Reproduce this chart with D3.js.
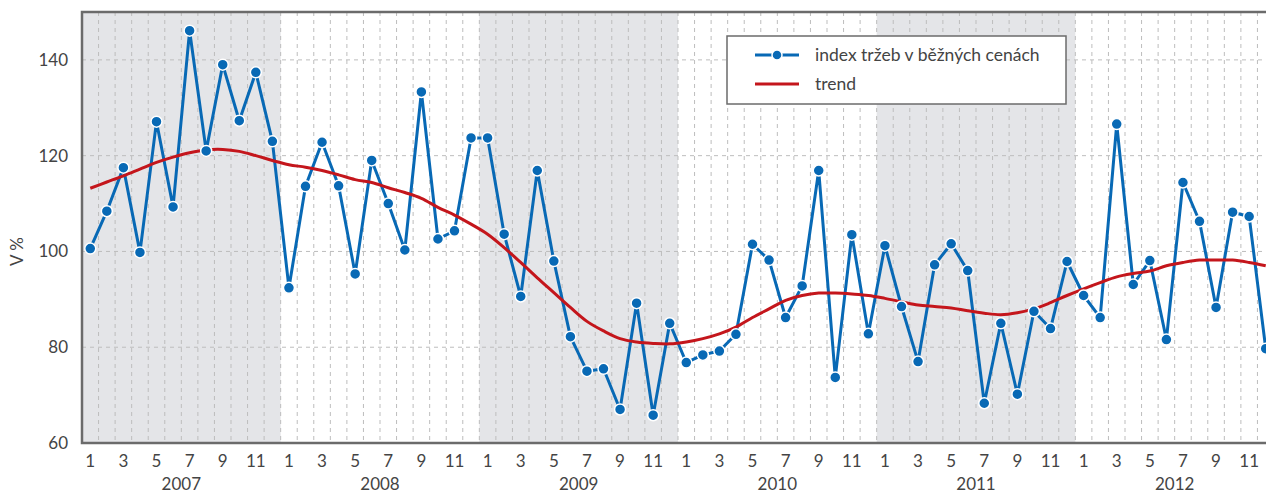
<!DOCTYPE html>
<meta charset="utf-8">
<head>
  <title>Index tržeb</title>
  <script src="https://d3js.org/d3.v7.min.js"></script>
</head>
<style>
body { margin: 0; background: #fff; }
text { font-family: Lato, "Open Sans", sans-serif; fill: #444; }
.grid line { stroke: #bdbdbd; stroke-dasharray: 4,4; stroke-width: 1; }
.frame { stroke: #6b6b6b; stroke-width: 2.5; fill: none; }
.series { fill: none; stroke: #0869b5; stroke-width: 3; stroke-linejoin: round; }
.trend { fill: none; stroke: #c4161c; stroke-width: 3; }
.dot { fill: #0869b5; stroke: #fff; stroke-width: 1.5; }
</style>
<body>
<script>
var years = ["2007", "2008", "2009", "2010", "2011", "2012"]
var monthTicks = [1, 3, 5, 7, 9, 11]
var yTicks = [60, 80, 100, 120, 140]

// index tržeb v běžných cenách, month by month 2007-2012
var index = [
  100.6, 108.4, 117.5, 99.8, 127.1, 109.3, 146.1, 121.0, 139.0, 127.3, 137.4, 123.0,
  92.4, 113.6, 122.8, 113.7, 95.3, 119.0, 110.0, 100.3, 133.3, 102.6, 104.3, 123.7,
  123.7, 103.6, 90.6, 116.9, 98.0, 82.2, 75.0, 75.5, 67.0, 89.2, 65.8, 85.0,
  76.8, 78.4, 79.2, 82.7, 101.5, 98.2, 86.2, 92.8, 116.9, 73.7, 103.5, 82.8,
  101.2, 88.5, 77.0, 97.2, 101.6, 96.0, 68.3, 85.0, 70.2, 87.5, 83.9, 97.9,
  90.8, 86.2, 126.6, 93.1, 98.1, 81.6, 114.4, 106.3, 88.3, 108.2, 107.3, 79.7
]
var trend = [
  113.2, 114.5, 115.8, 117.2, 118.6, 119.7, 120.6, 121.2, 121.3, 120.9, 120.0, 119.0,
  118.1, 117.6, 116.9, 116.0, 115.0, 114.4, 113.3, 112.3, 111.1, 109.2, 107.6, 105.7,
  103.6, 100.8, 97.7, 94.5, 91.4, 88.3, 85.4, 83.4, 81.8, 81.1, 80.8, 80.7,
  81.1, 81.8, 82.8, 84.2, 86.2, 88.0, 89.8, 90.8, 91.3, 91.3, 91.1, 90.8,
  90.2, 89.5, 88.8, 88.5, 88.2, 87.6, 87.1, 86.8, 87.2, 88.0, 89.3, 90.8,
  92.2, 93.5, 94.7, 95.4, 95.9, 97.0, 97.7, 98.2, 98.2, 98.2, 97.7, 97.0
]

var width = 1266, height = 495
var plotL = 82, plotT = 12, plotB = 443, plotR = 1274

var svg = d3.select("body").append("svg")
    .attr("width", width)
    .attr("height", height)

var months = d3.range(index.length)

var x = d3.scaleBand()
    .domain(months)
    .range([plotL, plotR])
    .paddingInner(0).paddingOuter(0)

var y = d3.scaleLinear()
    .domain([60, 150])
    .range([plotB, plotT])

var step = x.step()
function cx(i) { return x(i) + step / 2 }

// shaded years
svg.selectAll(".band")
    .data(years.filter(function(d, i) { return i % 2 == 0 }))
  .enter().append("rect")
    .attr("class", "band")
    .attr("x", function(d) { return x(years.indexOf(d) * 12) })
    .attr("y", plotT)
    .attr("width", step * 12)
    .attr("height", plotB - plotT)
    .attr("fill", "#e4e5e8")

// grid
var grid = svg.append("g").attr("class", "grid")
grid.selectAll(".vg")
    .data(months.slice(1))
  .enter().append("line")
    .attr("x1", function(d) { return x(d) })
    .attr("x2", function(d) { return x(d) })
    .attr("y1", plotT)
    .attr("y2", plotB)
grid.selectAll(".hg")
    .data(yTicks.slice(1))
  .enter().append("line")
    .attr("x1", plotL)
    .attr("x2", plotR)
    .attr("y1", function(d) { return y(d) })
    .attr("y2", function(d) { return y(d) })

// frame
svg.append("path")
    .attr("class", "frame")
    .attr("d", "M" + plotR + "," + plotT + "H" + plotL + "V" + plotB + "H" + plotR)

// y labels
svg.selectAll(".ylab")
    .data(yTicks)
  .enter().append("text")
    .attr("x", 68)
    .attr("y", function(d) { return y(d) })
    .attr("dy", "0.35em")
    .attr("text-anchor", "end")
    .style("font-size", "17px")
    .text(function(d) { return d })

svg.append("text")
    .attr("transform", "translate(23," + y(100) + ") rotate(-90)")
    .attr("text-anchor", "middle")
    .style("font-size", "17px")
    .text("V %")

// month labels
var monthLabels = []
years.forEach(function(yr, yi) {
  monthTicks.forEach(function(m) { monthLabels.push({ i: yi * 12 + m - 1, m: m }) })
})
svg.selectAll(".mlab")
    .data(monthLabels)
  .enter().append("text")
    .attr("x", function(d) { return cx(d.i) })
    .attr("y", 467)
    .attr("text-anchor", "middle")
    .style("font-size", "17px")
    .text(function(d) { return d.m })

svg.selectAll(".yrlab")
    .data(years)
  .enter().append("text")
    .attr("x", function(d, i) { return x(i * 12) + step * 6 })
    .attr("y", 490)
    .attr("text-anchor", "middle")
    .style("font-size", "17px")
    .text(function(d) { return d })

// lines
var line = d3.line()
    .x(function(d, i) { return cx(i) })
    .y(function(d) { return y(d) })

svg.append("path")
    .datum(index)
    .attr("class", "series")
    .attr("d", line)

svg.append("path")
    .datum(trend)
    .attr("class", "trend")
    .attr("d", line.curve(d3.curveCatmullRom))

svg.selectAll(".dot")
    .data(index)
  .enter().append("circle")
    .attr("class", "dot")
    .attr("cx", function(d, i) { return cx(i) })
    .attr("cy", function(d) { return y(d) })
    .attr("r", 5.5)

// legend
var legend = svg.append("g").attr("transform", "translate(727,36)")
legend.append("rect")
    .attr("width", 339)
    .attr("height", 68)
    .attr("fill", "#fff")
    .attr("stroke", "#6b6b6b")
    .attr("stroke-width", 1.5)
legend.append("line")
    .attr("x1", 28).attr("x2", 72).attr("y1", 19).attr("y2", 19)
    .attr("stroke", "#0869b5").attr("stroke-width", 3)
legend.append("circle")
    .attr("class", "dot")
    .attr("cx", 50).attr("cy", 19).attr("r", 5)
legend.append("line")
    .attr("x1", 28).attr("x2", 72).attr("y1", 48).attr("y2", 48)
    .attr("stroke", "#c4161c").attr("stroke-width", 3)
legend.append("text")
    .attr("x", 88).attr("y", 19).attr("dy", "0.35em")
    .style("font-size", "17.5px")
    .text("index tržeb v běžných cenách")
legend.append("text")
    .attr("x", 88).attr("y", 48).attr("dy", "0.35em")
    .style("font-size", "17.5px")
    .text("trend")
</script>
</body>
</html>
